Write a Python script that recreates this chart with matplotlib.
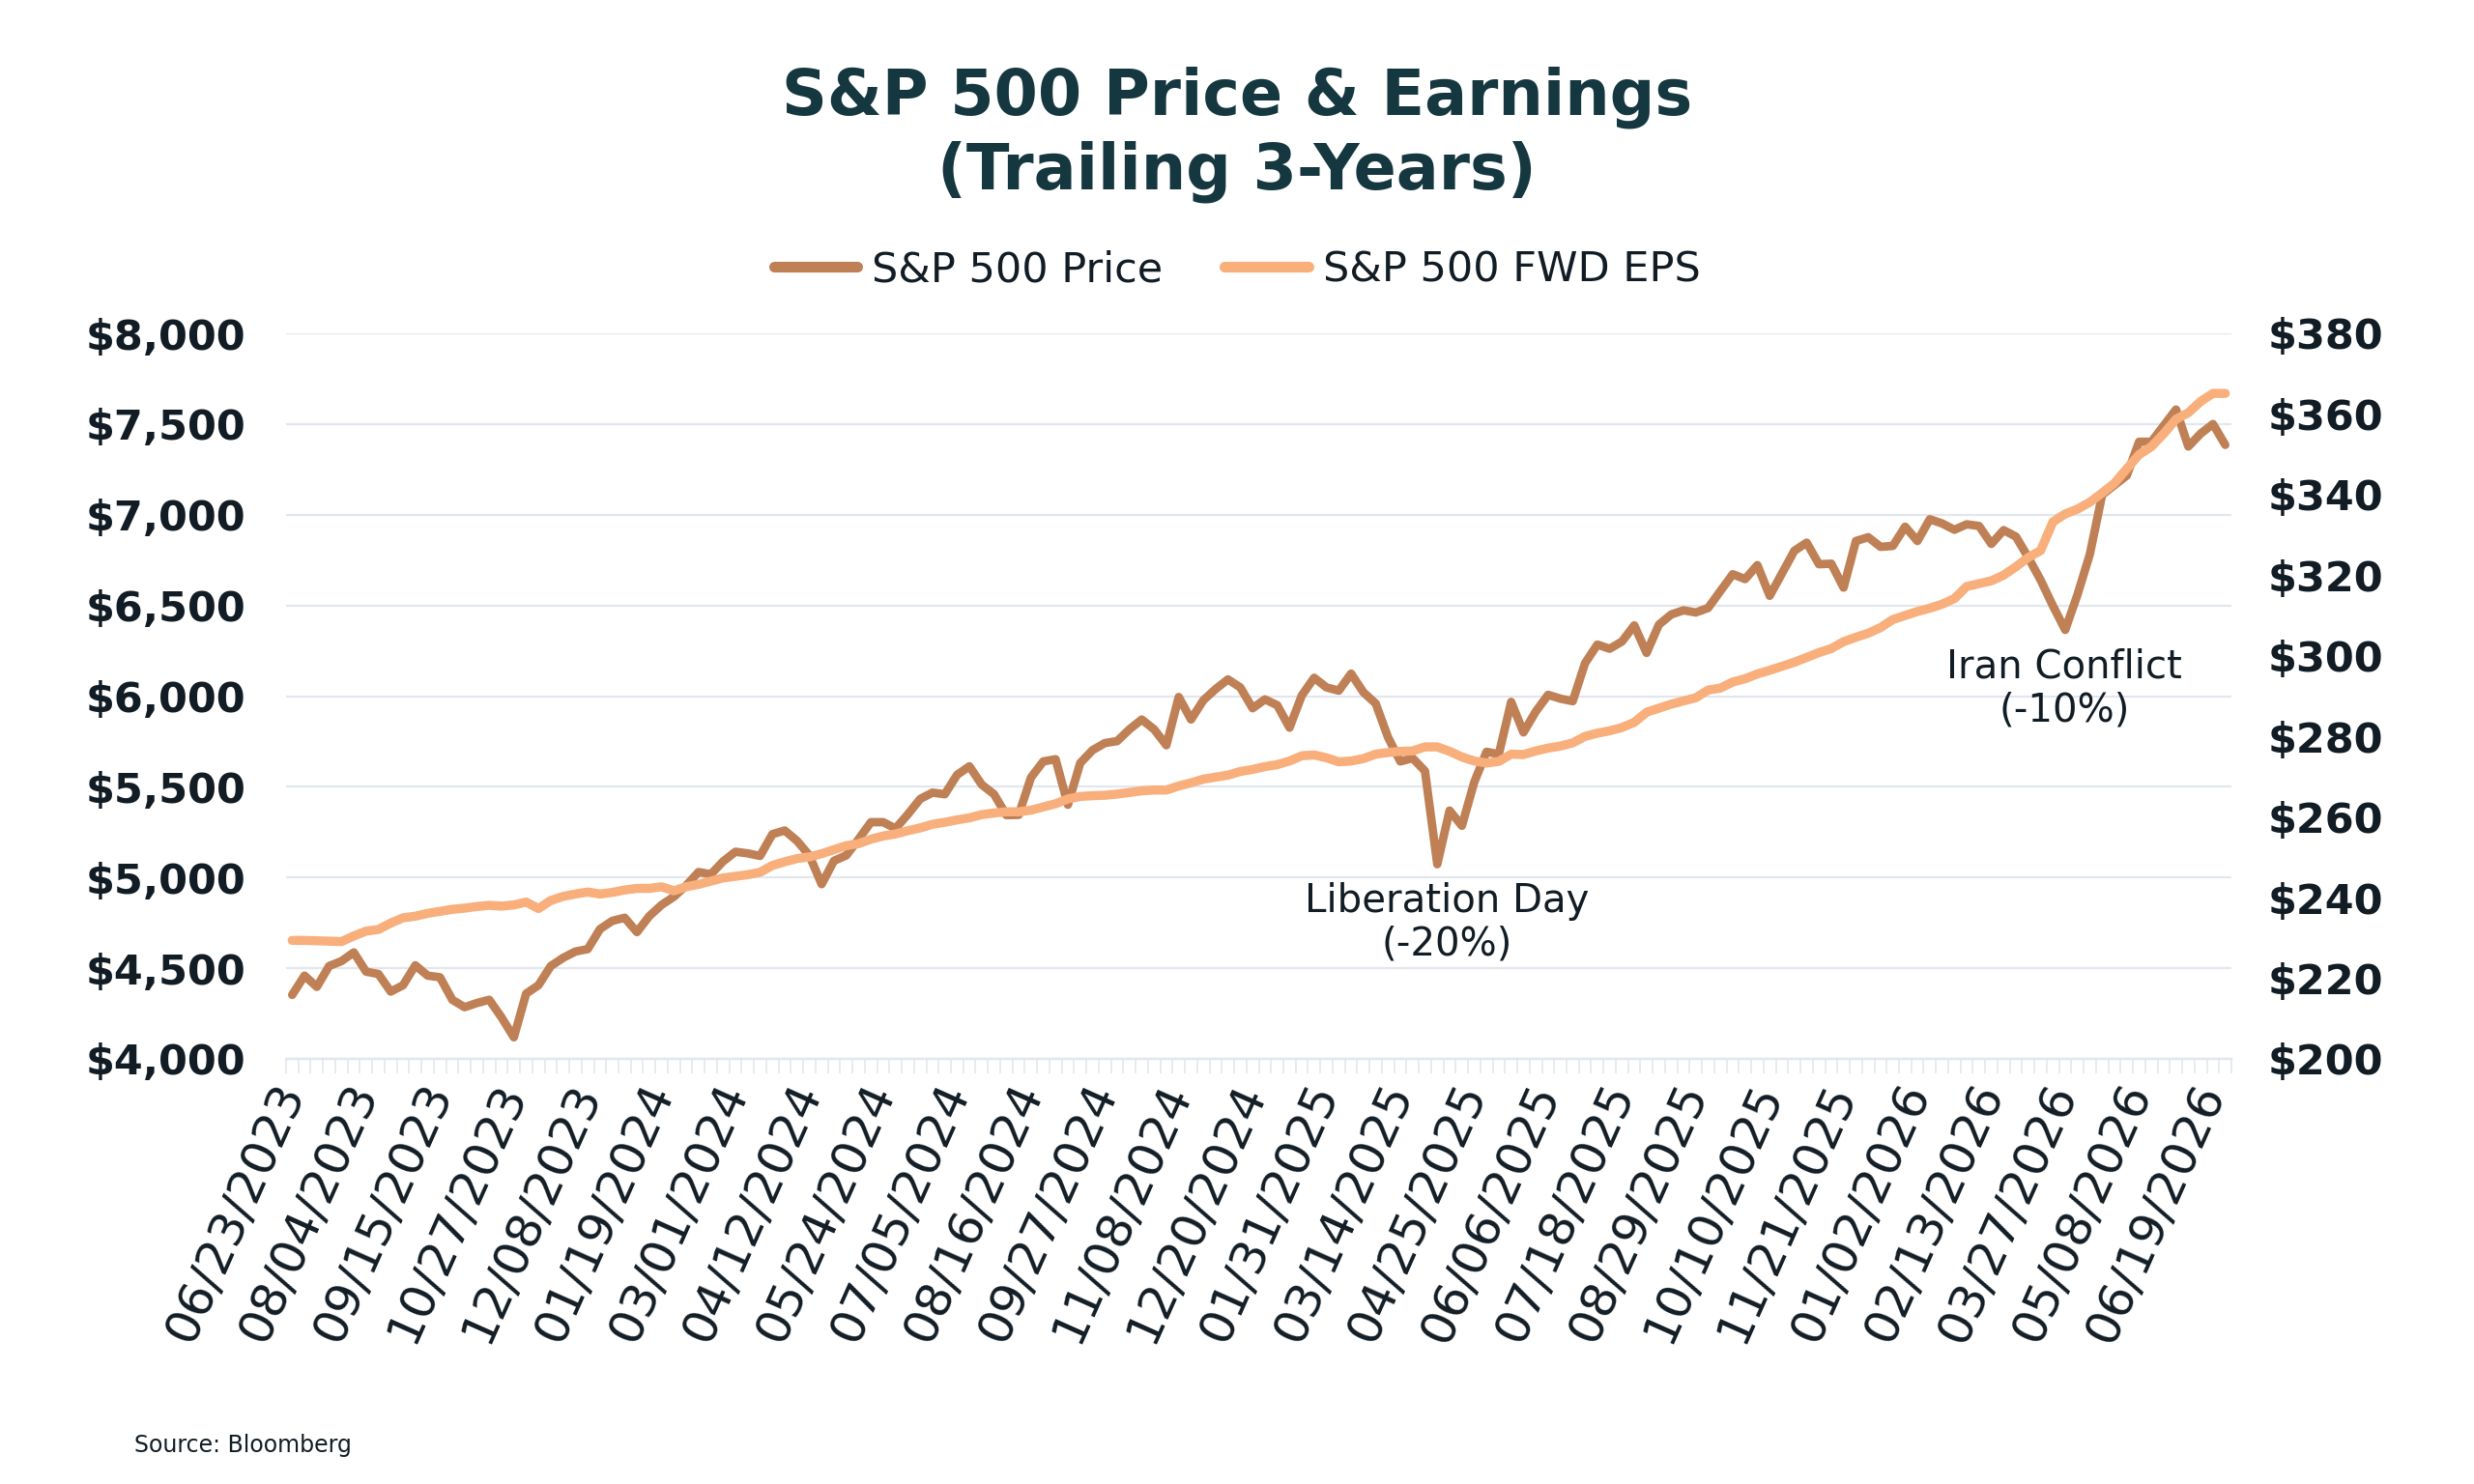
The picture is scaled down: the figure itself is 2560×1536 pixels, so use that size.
import matplotlib
matplotlib.use("Agg")
import matplotlib.pyplot as plt
import numpy as np

# ---------------- data (weekly) ----------------
price = [4353, 4459, 4397, 4512, 4539, 4587, 4481, 4468, 4371, 4406,
         4516, 4459, 4450, 4326, 4285, 4308, 4326, 4229, 4119, 4360,
         4406, 4512, 4557, 4592, 4605, 4716, 4761, 4778, 4699, 4787,
         4849, 4894, 4956, 5030, 5018, 5089, 5142, 5133, 5119, 5239,
         5259, 5202, 5122, 4963, 5092, 5122, 5211, 5305, 5305, 5270,
         5348, 5433, 5468, 5459, 5566, 5613, 5512, 5459, 5344, 5345,
         5551, 5640, 5652, 5401, 5631, 5702, 5741, 5752, 5817, 5871,
         5817, 5729, 5995, 5871, 5977, 6039, 6092, 6048, 5933, 5982,
         5950, 5826, 6004, 6101, 6048, 6030, 6124, 6021, 5959, 5773,
         5640, 5658, 5587, 5073, 5369, 5285, 5525, 5693, 5680, 5968,
         5800, 5915, 6007, 5986, 5972, 6181, 6284, 6261, 6301, 6390,
         6238, 6394, 6450, 6473, 6461, 6486, 6580, 6672, 6645, 6722,
         6553, 6677, 6801, 6846, 6727, 6730, 6598, 6855, 6876, 6823,
         6828, 6934, 6855, 6975, 6952, 6917, 6947, 6938, 6839, 6915,
         6879, 6764, 6640, 6498, 6365, 6560, 6782, 7110, 7163, 7216,
         7402, 7402, 7491, 7580, 7376, 7447, 7500, 7385]

fwd_eps = [229.4, 229.4, 229.3, 229.2, 229.1, 230.5, 231.7, 232.1, 233.7, 235.0,
           235.4, 236.1, 236.6, 237.1, 237.4, 237.8, 238.1, 237.9, 238.2, 238.9,
           237.3, 239.3, 240.3, 240.9, 241.4, 240.9, 241.3, 241.9, 242.3, 242.3,
           242.7, 241.7, 242.7, 243.3, 244.1, 244.9, 245.3, 245.7, 246.3, 248.0,
           248.9, 249.7, 250.1, 250.9, 251.9, 252.9, 253.4, 254.5, 255.3, 255.8,
           256.6, 257.3, 258.2, 258.7, 259.3, 259.8, 260.6, 261.0, 261.3, 261.3,
           261.7, 262.5, 263.3, 264.5, 265.1, 265.3, 265.4, 265.7, 266.1, 266.5,
           266.7, 266.7, 267.7, 268.5, 269.4, 269.9, 270.4, 271.3, 271.8, 272.5,
           273.0, 273.9, 275.2, 275.4, 274.7, 273.7, 273.9, 274.5, 275.6, 276.0,
           276.3, 276.4, 277.4, 277.4, 276.3, 274.9, 273.9, 273.4, 273.8, 275.6,
           275.5, 276.4, 277.1, 277.6, 278.4, 280.0, 280.8, 281.4, 282.2, 283.5,
           286.0, 287.0, 288.0, 288.8, 289.6, 291.5, 292.0, 293.5, 294.3, 295.5,
           296.4, 297.4, 298.4, 299.6, 300.8, 301.8, 303.5, 304.6, 305.6, 307.0,
           309.0, 310.0, 311.0, 311.8, 312.8, 314.2, 317.2, 317.9, 318.6, 320.0,
           322.1, 324.4, 326.1, 333.2, 335.2, 336.4, 338.1, 340.4, 342.8, 346.4,
           349.9, 351.9, 355.1, 358.7, 360.3, 363.1, 365.1, 365.1]

date_labels = ["06/23/2023", "08/04/2023", "09/15/2023", "10/27/2023", "12/08/2023",
               "01/19/2024", "03/01/2024", "04/12/2024", "05/24/2024", "07/05/2024",
               "08/16/2024", "09/27/2024", "11/08/2024", "12/20/2024", "01/31/2025",
               "03/14/2025", "04/25/2025", "06/06/2025", "07/18/2025", "08/29/2025",
               "10/10/2025", "11/21/2025", "01/02/2026", "02/13/2026", "03/27/2026",
               "05/08/2026", "06/19/2026"]
label_step = 6

left_ticks = [4000, 4500, 5000, 5500, 6000, 6500, 7000, 7500, 8000]
right_ticks = [200, 220, 240, 260, 280, 300, 320, 340, 360, 380]

series_names = ["S&P 500 Price", "S&P 500 FWD EPS"]

# ---------------- style ----------------
PRICE_C = "#c08055"
EPS_C = "#f8af7c"
TITLE_C = "#15373f"
TEXT_C = "#111c24"
GRID_C = "#e3e7ed"

W, H = 2560, 1536
fig = plt.figure(figsize=(W / 100, H / 100), dpi=100)
fig.patch.set_facecolor("white")

left_px, right_px, top_px, bot_px = 296, 2309, 345, 1096
ax = fig.add_axes([left_px / W, 1 - bot_px / H, (right_px - left_px) / W, (bot_px - top_px) / H])
ax2 = ax.twinx()

x = np.arange(len(price))
l1, = ax.plot(x, price, color=PRICE_C, lw=6.3, solid_joinstyle="round",
              solid_capstyle="round", label=series_names[0], zorder=3)
l2, = ax2.plot(x, fwd_eps, color=EPS_C, lw=6.8, solid_joinstyle="round",
               solid_capstyle="round", label=series_names[1], zorder=3)

ax.set_xlim(-0.5, len(price) - 0.5)
ax.set_ylim(left_ticks[0], left_ticks[-1])
ax2.set_ylim(right_ticks[0], right_ticks[-1])

ax.set_yticks(left_ticks)
ax.set_yticklabels([f"${v:,.0f}" for v in left_ticks])
ax2.set_yticks(right_ticks)
ax2.set_yticklabels([f"${v:,.0f}" for v in right_ticks])

ax.grid(axis="y", color=GRID_C, lw=1.6)
ax.set_axisbelow(True)

for a in (ax, ax2):
    for s in ("top", "left", "right"):
        a.spines[s].set_visible(False)
    a.spines["bottom"].set_color(GRID_C)
    a.spines["bottom"].set_linewidth(1.6)

ax.tick_params(axis="y", length=0, pad=30, labelsize=31, labelcolor=TEXT_C)
ax2.tick_params(axis="y", length=0, pad=27, labelsize=31, labelcolor=TEXT_C)
for t in ax.get_yticklabels() + ax2.get_yticklabels():
    t.set_fontweight("bold")

major_pos = x[::label_step]
ax.set_xticks(major_pos)
ax.set_xticklabels(date_labels)
ax.set_xticks(np.arange(-0.5, len(price)), minor=True)
ax.tick_params(axis="x", which="major", length=0, pad=20, labelsize=36, labelcolor=TEXT_C)
ax.tick_params(axis="x", which="minor", length=11, width=1.2, color=GRID_C)
for t in ax.get_xticklabels():
    t.set_rotation(66)
    t.set_ha("right")
    t.set_va("center")
    t.set_rotation_mode("anchor")

# annotations
ax.text(93.8, 4750, "Liberation Day\n(-20%)", ha="center", va="center",
        fontsize=29, color=TEXT_C, linespacing=1.15, zorder=5)
ax.text(143.9, 6040, "Iran Conflict\n(-10%)", ha="center", va="center",
        fontsize=29, color=TEXT_C, linespacing=1.15, zorder=5)

# title
fig.text(0.5, 1 - 101 / H, "S&P 500 Price & Earnings", ha="center", va="center",
         fontsize=47, fontweight="bold", color=TITLE_C)
fig.text(0.5, 1 - 178 / H, "(Trailing 3-Years)", ha="center", va="center",
         fontsize=47, fontweight="bold", color=TITLE_C)

# legend
leg = fig.legend(handles=[l1, l2], loc="center", bbox_to_anchor=(0.5, 1 - 279 / H),
                 ncol=2, frameon=False, fontsize=31, handlelength=2.0,
                 handletextpad=0.35, columnspacing=1.5)
for t in leg.get_texts():
    t.set_color(TEXT_C)
for h in leg.get_lines():
    h.set_linewidth(8)

fig.text(139 / W, 1 - 1496 / H, "Source: Bloomberg", ha="left", va="center",
         fontsize=17, color=TEXT_C)

fig.savefig("out.png", dpi=100, facecolor="white")
